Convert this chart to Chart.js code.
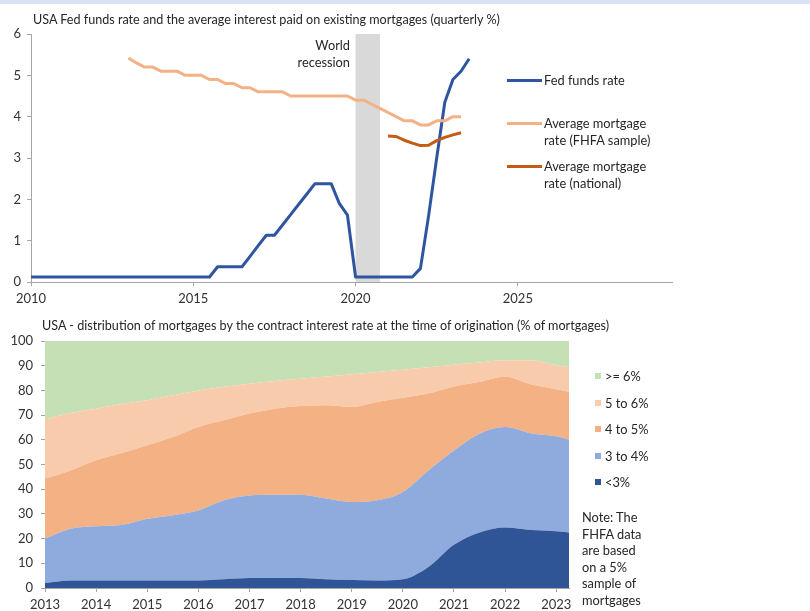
<!DOCTYPE html>
<html>
<head>
<meta charset="utf-8">
<script src="https://cdn.jsdelivr.net/npm/chart.js@4.4.1/dist/chart.umd.min.js"></script>
<style>
  body { margin: 0; background: #fff; font-family: Lato, "Open Sans", sans-serif; color: #262626; }
  #page { position: relative; width: 810px; height: 611px; overflow: hidden; }
  #strip { position: absolute; left: 0; top: 0; width: 810px; height: 4px; background: #dae3f3; }
  canvas { position: absolute; left: 0; }
  .txt { position: absolute; font-size: 12.8px; line-height: 17px; white-space: nowrap; }
  .title { font-size: 12.6px; }
  .leg-line { position: absolute; width: 35px; height: 3px; }
  .leg-box { position: absolute; width: 6px; height: 6px; }
</style>
</head>
<body>
<div id="page">
  <div id="strip"></div>
  <canvas id="topChart" width="810" height="310" style="top:0"></canvas>
  <canvas id="bottomChart" width="810" height="301" style="top:310px"></canvas>

  <div class="txt title" style="left:33px; top:11px">USA Fed funds rate and the average interest paid on existing mortgages (quarterly %)</div>
  <div class="txt" style="right:460px; top:37px; text-align:right">World<br>recession</div>

  <div class="leg-line" style="left:507px; top:79px; background:#2f55a0"></div>
  <div class="txt" style="left:544px; top:72px">Fed funds rate</div>
  <div class="leg-line" style="left:507px; top:122px; background:#f4b183"></div>
  <div class="txt" style="left:544px; top:115px">Average mortgage<br>rate (FHFA sample)</div>
  <div class="leg-line" style="left:507px; top:165px; background:#c55a11"></div>
  <div class="txt" style="left:544px; top:158px">Average mortgage<br>rate (national)</div>

  <div class="txt title" style="left:42px; top:317px">USA - distribution of mortgages by the contract interest rate at the time of origination (% of mortgages)</div>

  <div id="legend2"></div>
  <div class="txt" style="left:582px; top:509px; line-height:16.5px">Note: The<br>FHFA data<br>are based<br>on a 5%<br>sample of<br>mortgages</div>
</div>

<script>
// ---- top chart data (quarterly %) ----
const fedStart = 2010;
const fedRate = [
  0.12, 0.12, 0.12, 0.12, 0.12, 0.12, 0.12, 0.12, 0.12, 0.12, 0.12, 0.12,
  0.12, 0.12, 0.12, 0.12, 0.12, 0.12, 0.12, 0.12, 0.12, 0.12, 0.12,
  0.37, 0.37, 0.37, 0.37, 0.62, 0.88, 1.13, 1.13, 1.38, 1.63, 1.88, 2.13,
  2.38, 2.38, 2.38, 1.9, 1.62,
  0.12, 0.12, 0.12, 0.12, 0.12, 0.12, 0.12, 0.12,
  0.33, 1.6, 3.0, 4.35, 4.9, 5.1, 5.4
];
const fhfaStart = 2013;
const fhfaRate = [
  5.42, 5.3, 5.2, 5.2, 5.1, 5.1, 5.1, 5.0, 5.0, 5.0, 4.9, 4.9,
  4.8, 4.8, 4.7, 4.7, 4.6, 4.6, 4.6, 4.6,
  4.5, 4.5, 4.5, 4.5, 4.5, 4.5, 4.5, 4.5,
  4.4, 4.4, 4.3, 4.2, 4.1, 4.0, 3.9, 3.9, 3.8, 3.8, 3.9, 3.9, 4.0, 4.0
];
const nationalStart = 2021;
const nationalRate = [3.53, 3.52, 3.43, 3.36, 3.3, 3.31, 3.42, 3.5, 3.56, 3.61];
const recession = [2020, 2020.75];
const topTicks = [2010, 2015, 2020, 2025];

// ---- bottom chart data (% of mortgages, half-yearly) ----
const years = [2013, 2013.5, 2014, 2014.5, 2015, 2015.5, 2016, 2016.5, 2017, 2017.5, 2018,
  2018.5, 2019, 2019.5, 2020, 2020.5, 2021, 2021.5, 2022, 2022.5, 2023, 2023.25];
const below3 = [2, 3, 3, 3, 3, 3, 3, 3.5, 4, 4, 4, 3.5, 3.2, 3, 3.5, 8.5, 17.5, 22.5, 24.5, 23.5, 23, 22.5];
const from3to4 = [18, 21, 22, 22.5, 25, 26.5, 28.4, 32, 33.5, 33.8, 33.8, 32.7, 31.6, 32.5, 35.4, 39.1, 38.2, 40, 40.7, 39.2, 38.4, 37.5];
const from4to5 = [24.3, 23.6, 26.7, 29.2, 29.8, 31.6, 33.8, 32.4, 33.1, 34.8, 35.9, 37.8, 38.5, 39.8, 38.1, 31.1, 25.9, 20.9, 20.3, 19.8, 19.1, 19.5];
const from5to6 = [23.9, 23.2, 20.9, 19.8, 18.2, 16.9, 14.8, 13.6, 12.1, 11.2, 11, 11.6, 13.2, 12.2, 11.4, 10.7, 8.8, 7.9, 6.7, 9.7, 9.7, 10];
const above6 = [31.8, 29.2, 27.4, 25.5, 24, 22, 20, 18.5, 17.3, 16.2, 15.3, 14.4, 13.5, 12.5, 11.6, 10.6, 9.6, 8.7, 7.8, 7.8, 9.8, 10.5];
const bottomTicks = [2013, 2014, 2015, 2016, 2017, 2018, 2019, 2020, 2021, 2022, 2023];

const axisGray = "#a6a6a6";
const tickFont = { family: "Lato", size: 13 };
const tickColor = "#333333";

// quarterly values -> {x,y} points
function quarterly(start, values) {
  return values.map((v, i) => ({ x: start + i * 0.25, y: v }));
}

function lineSet(label, data, color) {
  return {
    label: label,
    data: data,
    borderColor: color,
    borderWidth: 3,
    pointRadius: 0,
    tension: 0,
    fill: false,
    borderJoinStyle: "round"
  };
}

// grey band for the recession
const recessionBand = {
  id: "recessionBand",
  beforeDatasetsDraw(chart) {
    const x = chart.scales.x;
    const area = chart.chartArea;
    const ctx = chart.ctx;
    const x0 = x.getPixelForValue(recession[0]);
    const x1 = x.getPixelForValue(recession[1]);
    ctx.save();
    ctx.fillStyle = "#d9d9d9";
    ctx.fillRect(x0, area.top, x1 - x0, area.bottom - area.top);
    ctx.restore();
  }
};

function axisGrid() {
  return { display: true, drawOnChartArea: false, drawTicks: true, tickLength: 4, color: axisGray };
}

new Chart(document.getElementById("topChart"), {
  type: "line",
  data: {
    datasets: [
      lineSet("Average mortgage rate (FHFA sample)", quarterly(fhfaStart, fhfaRate), "#f4b183"),
      lineSet("Average mortgage rate (national)", quarterly(nationalStart, nationalRate), "#c55a11"),
      lineSet("Fed funds rate", quarterly(fedStart, fedRate), "#2f55a0")
    ]
  },
  options: {
    responsive: false,
    animation: false,
    layout: { padding: { left: 0, top: 34, right: 138, bottom: 0 } },
    plugins: { legend: { display: false }, tooltip: { enabled: false } },
    scales: {
      x: {
        type: "linear",
        min: 2010,
        max: 2029.75,
        grid: axisGrid(),
        border: { color: axisGray },
        afterBuildTicks: (s) => { s.ticks = topTicks.map(v => ({ value: v })); },
        afterFit: (s) => { s.height = 28; },
        ticks: { font: tickFont, color: tickColor, maxRotation: 0, padding: 5, callback: v => String(v) }
      },
      y: {
        min: 0,
        max: 6,
        grid: axisGrid(),
        border: { color: axisGray },
        afterFit: (s) => { s.width = 31; },
        ticks: { stepSize: 1, font: tickFont, color: tickColor, padding: 6 }
      }
    }
  },
  plugins: [recessionBand]
});

// stacked areas
const bands = [
  { label: "<3%", values: below3, color: "#2f5597" },
  { label: "3 to 4%", values: from3to4, color: "#8faadc" },
  { label: "4 to 5%", values: from4to5, color: "#f4b183" },
  { label: "5 to 6%", values: from5to6, color: "#f8cbad" },
  { label: ">= 6%", values: above6, color: "#c5e0b4" }
];

new Chart(document.getElementById("bottomChart"), {
  type: "line",
  data: {
    datasets: bands.map((b, i) => ({
      label: b.label,
      data: b.values.map((v, j) => ({ x: years[j], y: v })),
      backgroundColor: b.color,
      borderColor: b.color,
      borderWidth: 0,
      pointRadius: 0,
      cubicInterpolationMode: "monotone",
      fill: i === 0 ? "origin" : "-1"
    }))
  },
  options: {
    responsive: false,
    animation: false,
    layout: { padding: { left: 0, top: 31, right: 241, bottom: 0 } },
    plugins: { legend: { display: false }, tooltip: { enabled: false } },
    scales: {
      x: {
        type: "linear",
        min: 2013,
        max: 2023.25,
        grid: axisGrid(),
        border: { color: axisGray },
        afterBuildTicks: (s) => { s.ticks = bottomTicks.map(v => ({ value: v })); },
        afterFit: (s) => { s.height = 23; },
        ticks: { font: tickFont, color: tickColor, maxRotation: 0, padding: 5, callback: v => String(v) }
      },
      y: {
        stacked: true,
        min: 0,
        max: 100,
        grid: axisGrid(),
        border: { color: axisGray },
        afterFit: (s) => { s.width = 45; },
        ticks: { stepSize: 10, font: tickFont, color: tickColor, padding: 8 }
      }
    }
  }
});

// legend for the stacked chart, top entry first
const legend2 = document.getElementById("legend2");
const legendY = [376, 403, 429, 456, 482];
bands.slice().reverse().forEach((b, i) => {
  legend2.innerHTML += `
    <div class="leg-box" style="left:595px; top:${legendY[i] - 3}px; background:${b.color}"></div>
    <div class="txt" style="left:605px; top:${legendY[i] - 8.5}px">${b.label.replace("<", "&lt;").replace(">", "&gt;")}</div>
  `;
});
</script>
</body>
</html>
